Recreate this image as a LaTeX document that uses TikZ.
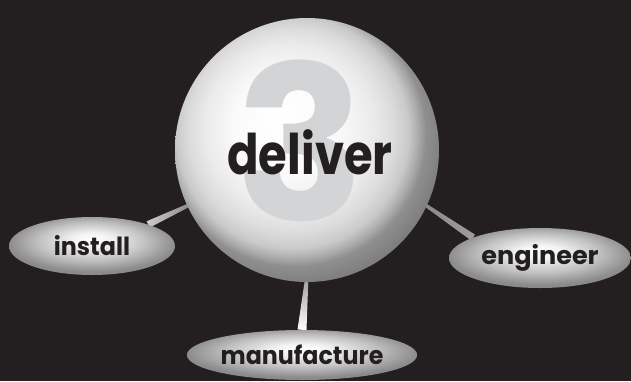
\documentclass[tikz,border=0pt]{standalone}
\usepackage{fontspec}
\setmainfont{Poppins}
\usetikzlibrary{calc,shapes.geometric}
\definecolor{bgc}{HTML}{231F20}
\definecolor{txt}{HTML}{231F20}
\definecolor{three}{HTML}{D3D4D6}
\pgfdeclareradialshading{sph}{\pgfqpoint{-5bp}{6bp}}{%
  color(0bp)=(white); color(10bp)=(white!98!black); color(16bp)=(white!92!black);
  color(19.5bp)=(white!86!black); color(22bp)=(white!79!black); color(23.7bp)=(white!67!black);
  color(25bp)=(white!56!black); color(30bp)=(white!45!black); color(50bp)=(white!35!black)}
\pgfdeclareradialshading{ell}{\pgfqpoint{0bp}{6bp}}{%
  color(0bp)=(white); color(6bp)=(white!95!black); color(16bp)=(white!76!black);
  color(25bp)=(white!55!black); color(50bp)=(white!40!black)}
\pgfdeclarelayer{bg}
\pgfdeclarelayer{conn}
\pgfsetlayers{bg,conn,main}
\tikzset{
  ball/.style={circle, inner sep=0pt, minimum size=#1, shading=sph},
  pill/.style={ellipse, inner sep=0pt, shading=ell, text=txt,
     font=\fontsize{25}{25}\selectfont\bfseries},
}
\begin{document}
\begin{tikzpicture}[x=1pt,y=-1pt]
\begin{pgfonlayer}{bg}
\fill[bgc] (0,0) rectangle (631,381);
\end{pgfonlayer}
\useasboundingbox (0,0) rectangle (631,381);
% sphere
\node[ball=264pt] (sphere) at (307,150) {};
\node[text=three, font=\fontsize{215}{215}\selectfont\bfseries, inner sep=0pt, anchor=base] (three) at (301,220) {3};
\node[text=txt, font=\fontsize{56}{56}\selectfont\bfseries, inner sep=0pt, anchor=base] (deliver) at (310,174) {\scalebox{0.83}[1]{deliver}};
% satellites
\node[pill, minimum width=166pt, minimum height=58pt] (install) at (92,246) {\scalebox{0.95}[1]{install}};
\node[pill, minimum width=182pt, minimum height=60pt] (engineer) at (540,258) {\scalebox{1.02}[1]{engineer}};
\node[pill, minimum width=208pt, minimum height=50pt] (manufacture) at (302,355) {\scalebox{0.95}[1]{manufacture}};
% connectors
\begin{pgfonlayer}{conn}
\shade[left color=white!80!black, right color=white!48!black]
  ($(sphere.center)!0.9!(sphere.205)$) coordinate (a1)
  ($(a1)!1.3pt!90:(install.21)$) -- ($(a1)!1.3pt!-90:(install.21)$)
  -- ($(install.21)!3.5pt!90:(a1)$) -- ($(install.21)!3.5pt!-90:(a1)$) -- cycle;
\shade[left color=white!52!black, right color=white!62!black]
  ($(sphere.center)!0.9!(sphere.-24)$) coordinate (a2)
  ($(a2)!1.3pt!90:(engineer.163)$) -- ($(a2)!1.3pt!-90:(engineer.163)$)
  -- ($(engineer.163)!3.5pt!90:(a2)$) -- ($(engineer.163)!3.5pt!-90:(a2)$) -- cycle;
\shade[top color=white!60!black, bottom color=white]
  ($(sphere.center)!0.95!(sphere.-90)$) coordinate (a3)
  ($(a3)!1.5pt!90:(manufacture.90)$) -- ($(a3)!1.5pt!-90:(manufacture.90)$)
  -- ($(manufacture.90)!4.5pt!90:(a3)$) -- ($(manufacture.90)!4.5pt!-90:(a3)$) -- cycle;
\end{pgfonlayer}
\end{tikzpicture}
\end{document}
